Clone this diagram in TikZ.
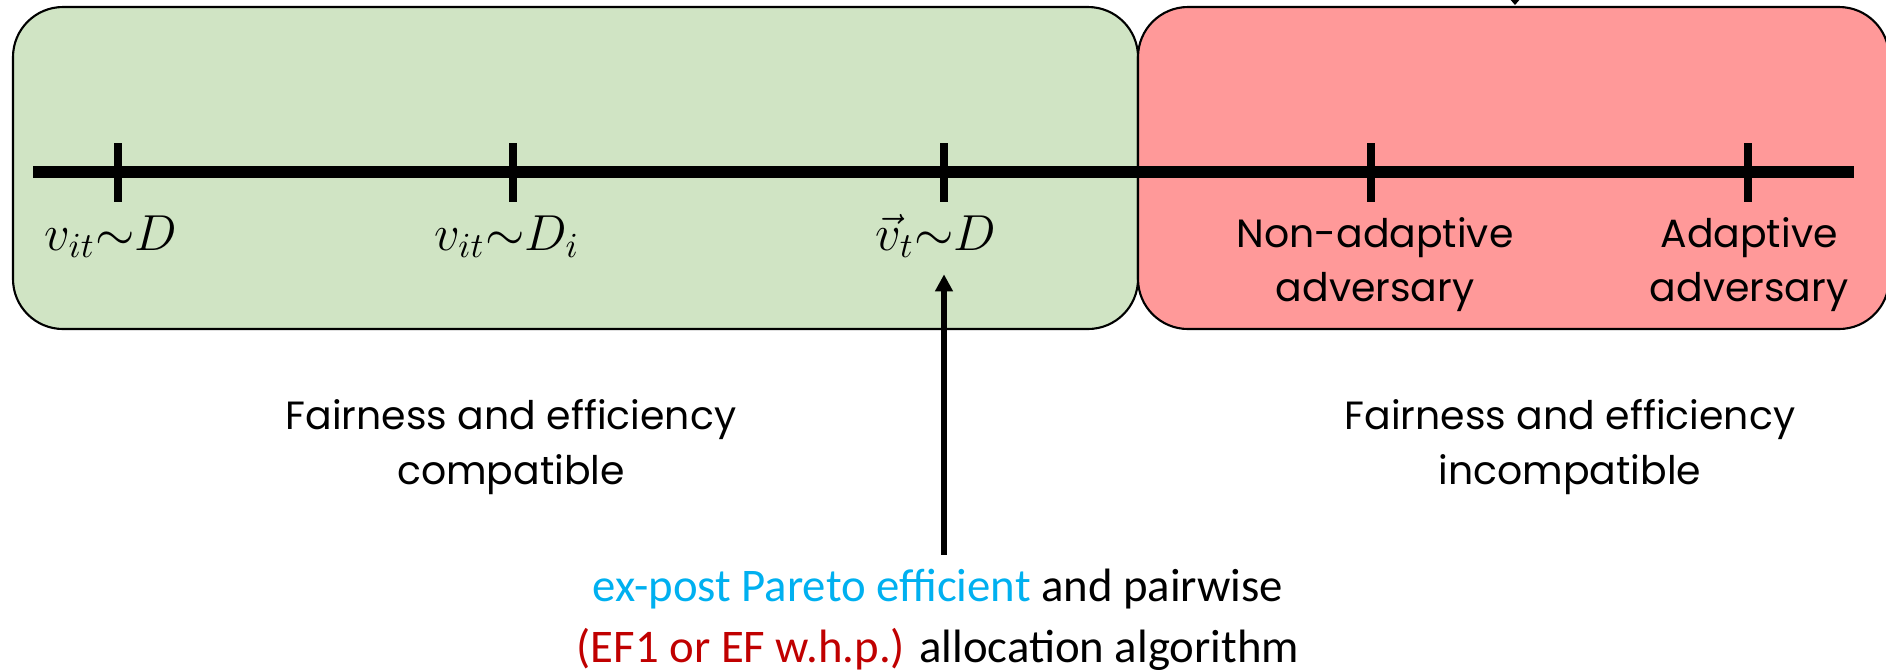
\documentclass[tikz,border=0pt]{standalone}
\usepackage{amsmath}
\usepackage{xcolor}
\usepackage{fontspec}
\usepackage{tikz}
\usetikzlibrary{positioning,calc,arrows.meta}
\setmainfont{Carlito}
\newfontfamily\geofont{Poppins}
\definecolor{zonegreen}{RGB}{208,228,196}
\definecolor{zonered}{RGB}{255,153,153}
\definecolor{paretoblue}{RGB}{0,176,240}
\definecolor{efred}{RGB}{192,0,0}
\tikzstyle{zone}= [draw, line width=0.6pt, rounded corners=0.5cm]
\tikzstyle{axisline}= [line width=3.2pt]
\tikzstyle{tickmark}= [line width=2.3pt]
\tikzstyle{vlab}= [anchor=base, inner sep=0pt, font=\fontsize{14}{16}\selectfont]
\tikzstyle{txt}= [inner sep=0pt, align=center, font=\geofont\fontsize{11.2}{15.4}\selectfont]
\tikzstyle{algo}= [inner sep=0pt, align=center, font=\fontsize{13.3}{17.2}\selectfont]
\tikzstyle{arr}= [line width=1.7pt, -{Triangle[width=0.17cm, length=0.17cm]}]

\begin{document}
\begin{tikzpicture}[x=0.01cm, y=-0.01cm]
				\useasboundingbox (0, 0) rectangle (1886, 669);
				\draw[zone, fill=zonegreen] (13, 7) rectangle (1138, 329);
				\draw[zone, fill=zonered] (1138, 7) rectangle (1889, 329);
				% axis and its ticks
				\coordinate (axl) at (33, 172);
				\coordinate (axr) at (1854, 172);
				\coordinate (t1) at (118, 172);
				\coordinate (t2) at (513, 172);
				\coordinate (t3) at (944, 172);
				\coordinate (t4) at (1371, 172);
				\coordinate (t5) at (1748, 172);
				\draw[axisline] (axl) -- (axr);
				\draw[tickmark] ($(t1)+(0, -29)$) -- ($(t1)+(0, 30)$);
				\draw[tickmark] ($(t2)+(0, -29)$) -- ($(t2)+(0, 30)$);
				\draw[tickmark] ($(t3)+(0, -29)$) -- ($(t3)+(0, 30)$);
				\draw[tickmark] ($(t4)+(0, -29)$) -- ($(t4)+(0, 30)$);
				\draw[tickmark] ($(t5)+(0, -29)$) -- ($(t5)+(0, 30)$);
				\node[vlab] (iid) at (111, 250) {$v_{it}{\sim}D$};
				\node[vlab] (indep) at (507, 250) {$v_{it}{\sim}D_i$};
				\node[vlab] (vt) at (936, 250) {$\vec{v}_t{\sim}D$};
				\node[txt] (nonad) at (1375, 265) {Non-adaptive\\adversary};
				\node[txt] (adapt) at (1749, 265) {Adaptive\\adversary};
				\node[txt] (compat) at (511, 447) {Fairness and efficiency\\compatible};
				\node[txt] (incompat) at (1570, 447) {Fairness and efficiency\\incompatible};
				\node[algo] (alg) at (938, 620) {\textcolor{paretoblue}{ex-post Pareto efficient} and pairwise\\\textcolor{efred}{(EF1 or EF w.h.p.)} allocation algorithm};
				\draw[arr, shorten <=0.14cm, shorten >=0.16cm] (alg.north -| t3) -- (vt.south -| t3);
				% arrow coming in from above
				\coordinate (topin) at (1515, -40);
				\coordinate (topend) at (1515, 5);
				\draw[line width=0.4pt, -{Triangle[width=0.1cm, length=0.06cm]}] (topin) -- (topend);
			\end{tikzpicture}
\end{document}
